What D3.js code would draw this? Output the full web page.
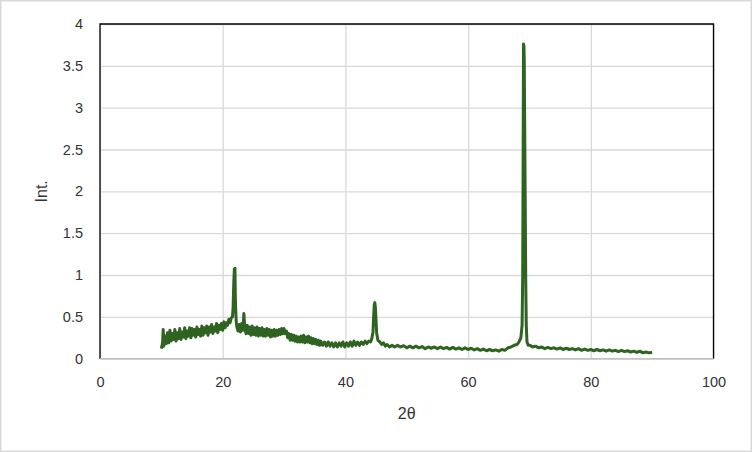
<!DOCTYPE html>
<html>
<head>
<meta charset="utf-8">
<script src="https://cdn.jsdelivr.net/npm/d3@7"></script>
<style>
  body { margin: 0; background: #fff; }
  svg text { font-family: "Liberation Sans", Arial, sans-serif; fill: #333; }
</style>
</head>
<body>
<div id="chart"></div>
<script>
// tick values
const xTicks = [0, 20, 40, 60, 80, 100];
const yTicks = [0, 0.5, 1, 1.5, 2, 2.5, 3, 3.5, 4];

// scan, [2θ, Int.]
const hump = [
  [10.0, 0.12], [10.2, 0.19], [10.3, 0.35], [10.4, 0.15], [10.6, 0.27], [10.8, 0.18],
  [11.0, 0.31], [11.2, 0.19], [11.4, 0.34], [11.6, 0.21], [11.8, 0.30], [12.0, 0.23],
  [12.2, 0.35], [12.4, 0.21], [12.6, 0.31], [12.8, 0.24], [13.0, 0.36], [13.2, 0.23],
  [13.4, 0.32], [13.6, 0.26], [13.8, 0.37], [14.0, 0.24], [14.2, 0.33], [14.4, 0.27],
  [14.6, 0.37], [14.8, 0.25], [15.0, 0.36], [15.2, 0.28], [15.4, 0.35], [15.6, 0.26],
  [15.8, 0.38], [16.0, 0.29], [16.2, 0.35], [16.4, 0.27], [16.6, 0.39], [16.8, 0.28],
  [17.0, 0.37], [17.2, 0.31], [17.4, 0.39], [17.6, 0.28], [17.8, 0.38], [18.0, 0.32],
  [18.2, 0.41], [18.4, 0.30], [18.6, 0.38], [18.8, 0.33], [19.0, 0.42], [19.2, 0.31],
  [19.4, 0.40], [19.6, 0.35], [19.8, 0.42], [20.0, 0.34], [20.2, 0.44], [20.4, 0.37],
  [20.6, 0.43], [20.8, 0.40], [21.0, 0.47], [21.2, 0.43], [21.4, 0.49], [21.6, 0.50]
];
const peak22 = [
  [21.7, 0.62], [21.8, 0.90], [21.9, 1.07], [22.0, 1.08], [22.05, 0.78], [22.1, 0.62],
  [22.2, 0.45], [22.3, 0.38], [22.5, 0.33], [22.7, 0.41], [22.9, 0.32], [23.1, 0.42],
  [23.3, 0.34], [23.45, 0.54], [23.6, 0.36], [23.8, 0.30]
];
const slope = [
  [24.0, 0.40], [24.2, 0.30], [24.4, 0.38], [24.6, 0.28], [24.8, 0.39], [25.0, 0.29],
  [25.2, 0.37], [25.4, 0.28], [25.6, 0.38], [25.8, 0.27], [26.0, 0.36], [26.2, 0.28],
  [26.4, 0.37], [26.6, 0.27], [26.8, 0.35], [27.0, 0.27], [27.2, 0.36], [27.4, 0.28],
  [27.6, 0.35], [27.8, 0.26], [28.0, 0.34], [28.2, 0.27], [28.4, 0.35], [28.6, 0.27],
  [28.8, 0.34], [29.0, 0.28], [29.2, 0.35], [29.4, 0.29], [29.6, 0.36], [29.8, 0.30],
  [30.0, 0.36], [30.2, 0.30], [30.4, 0.33], [30.6, 0.25], [30.8, 0.30], [31.0, 0.22],
  [31.2, 0.29], [31.4, 0.22], [31.6, 0.28], [31.8, 0.21], [32.0, 0.27], [32.2, 0.20],
  [32.4, 0.26], [32.6, 0.20], [32.8, 0.27], [33.0, 0.20], [33.2, 0.28], [33.4, 0.19],
  [33.6, 0.26], [33.8, 0.20], [34.0, 0.27], [34.2, 0.19], [34.4, 0.25], [34.6, 0.18],
  [34.8, 0.24], [35.0, 0.18], [35.2, 0.23], [35.4, 0.17], [35.6, 0.22], [35.8, 0.16],
  [36.0, 0.21], [36.3, 0.16], [36.6, 0.20], [36.9, 0.15], [37.2, 0.20], [37.5, 0.15],
  [37.8, 0.19], [38.1, 0.14], [38.4, 0.19], [38.7, 0.14], [39.0, 0.19], [39.3, 0.15],
  [39.6, 0.20], [39.9, 0.14], [40.2, 0.19], [40.5, 0.15], [40.8, 0.20], [41.1, 0.15],
  [41.4, 0.21], [41.7, 0.16], [42.0, 0.20], [42.3, 0.16], [42.6, 0.20], [42.9, 0.17],
  [43.2, 0.21], [43.5, 0.18], [43.8, 0.21], [44.1, 0.20]
];
const peak45 = [
  [44.3, 0.24], [44.5, 0.32], [44.6, 0.50], [44.7, 0.64], [44.8, 0.67], [44.9, 0.60],
  [45.0, 0.45], [45.1, 0.30], [45.3, 0.22], [45.6, 0.20], [45.9, 0.17], [46.2, 0.19],
  [46.5, 0.15], [46.8, 0.17], [47.2, 0.14], [47.6, 0.16]
];
const flat = [
  [48.0, 0.14], [48.5, 0.16], [49.0, 0.14], [49.5, 0.155], [50.0, 0.13], [50.5, 0.15],
  [51.0, 0.13], [51.5, 0.15], [52.0, 0.13], [52.5, 0.145], [53.0, 0.12], [53.5, 0.14],
  [54.0, 0.125], [54.5, 0.14], [55.0, 0.12], [55.5, 0.14], [56.0, 0.12], [56.5, 0.135],
  [57.0, 0.115], [57.5, 0.135], [58.0, 0.115], [58.5, 0.13], [59.0, 0.11], [59.5, 0.13],
  [60.0, 0.11], [60.5, 0.125], [61.0, 0.105], [61.5, 0.12], [62.0, 0.10], [62.5, 0.115],
  [63.0, 0.095], [63.5, 0.11], [64.0, 0.095], [64.5, 0.105], [65.0, 0.09], [65.5, 0.11],
  [66.0, 0.10], [66.5, 0.13], [67.0, 0.14], [67.5, 0.16], [68.0, 0.17], [68.3, 0.20]
];
const peak69 = [
  [68.6, 0.25], [68.8, 0.40], [68.9, 0.98], [68.97, 2.4], [69.03, 3.76], [69.1, 3.74],
  [69.15, 3.58], [69.3, 1.98], [69.4, 0.9], [69.48, 0.4], [69.6, 0.2], [69.8, 0.16]
];
const tail = [
  [70.1, 0.16], [70.5, 0.14], [71.0, 0.15], [71.5, 0.13], [72.0, 0.14], [72.5, 0.12],
  [73.0, 0.135], [73.5, 0.12], [74.0, 0.13], [74.5, 0.115], [75.0, 0.13], [75.5, 0.11],
  [76.0, 0.125], [76.5, 0.11], [77.0, 0.12], [77.5, 0.105], [78.0, 0.12], [78.5, 0.10],
  [79.0, 0.115], [79.5, 0.10], [80.0, 0.11], [80.5, 0.095], [81.0, 0.11], [81.5, 0.095],
  [82.0, 0.105], [82.5, 0.09], [83.0, 0.105], [83.5, 0.09], [84.0, 0.10], [84.5, 0.085],
  [85.0, 0.10], [85.5, 0.085], [86.0, 0.095], [86.5, 0.08], [87.0, 0.09], [87.5, 0.075],
  [88.0, 0.09], [88.5, 0.07], [89.0, 0.08], [89.5, 0.07], [90.0, 0.075]
];

const scan = [].concat(hump, peak22, slope, peak45, flat, peak69, tail);

const W = 752, H = 452;
const plotL = 100, plotR = 713.5, plotT = 24, plotB = 358.7;

const svg = d3.select("#chart").append("svg")
    .attr("width", W)
    .attr("height", H);

svg.append("rect")
    .attr("x", 0.75).attr("y", 0.75)
    .attr("width", W - 1.5).attr("height", H - 1.5)
    .attr("fill", "#fff")
    .attr("stroke", "#d9d9d9")
    .attr("stroke-width", 1.5);

const x = d3.scaleLinear().domain([0, 100]).range([plotL, plotR]);
const y = d3.scaleLinear().domain([0, 4]).range([plotB, plotT]);

// gridlines
svg.append("g")
    .attr("transform", `translate(0,${plotB})`)
    .call(d3.axisBottom(x).tickValues(xTicks).tickSize(-(plotB - plotT)).tickFormat(""))
    .call(g => g.select(".domain").remove())
    .call(g => g.selectAll("line").attr("stroke", "#d9d9d9").attr("stroke-width", 1.3));

svg.append("g")
    .attr("transform", `translate(${plotL},0)`)
    .call(d3.axisLeft(y).tickValues(yTicks).tickSize(-(plotR - plotL)).tickFormat(""))
    .call(g => g.select(".domain").remove())
    .call(g => g.selectAll("line").attr("stroke", "#d9d9d9").attr("stroke-width", 1.3));

// plot frame: black on three sides, grey axis at bottom
svg.append("path")
    .attr("d", `M${plotL},${plotB}V${plotT}H${plotR}V${plotB}`)
    .attr("fill", "none")
    .attr("stroke", "#000")
    .attr("stroke-width", 1.3);
svg.append("line")
    .attr("x1", plotL).attr("x2", plotR)
    .attr("y1", plotB).attr("y2", plotB)
    .attr("stroke", "#bfbfbf")
    .attr("stroke-width", 1.5);

// tick labels
svg.append("g")
    .attr("transform", `translate(0,${plotB})`)
    .call(d3.axisBottom(x).tickValues(xTicks).tickSize(0).tickPadding(18).tickFormat(d3.format("d")))
    .call(g => g.select(".domain").remove())
    .call(g => g.selectAll("text").attr("font-size", 14.5).attr("fill", "#333")
        .style("font-family", '"Liberation Sans", Arial, sans-serif'));

svg.append("g")
    .attr("transform", `translate(${plotL},0)`)
    .call(d3.axisLeft(y).tickValues(yTicks).tickSize(0).tickPadding(17).tickFormat(d => String(d)))
    .call(g => g.select(".domain").remove())
    .call(g => g.selectAll("text").attr("font-size", 14.5).attr("fill", "#333")
        .style("font-family", '"Liberation Sans", Arial, sans-serif'));

// axis titles
svg.append("text")
    .attr("transform", `translate(47,${(plotT + plotB) / 2}) rotate(-90)`)
    .attr("text-anchor", "middle")
    .attr("font-size", 16)
    .text("Int.");

svg.append("text")
    .attr("x", (plotL + plotR) / 2)
    .attr("y", 419)
    .attr("text-anchor", "middle")
    .attr("font-size", 16)
    .text("2θ");

// scan line
const line = d3.line()
    .x(d => x(d[0]))
    .y(d => y(d[1]));

svg.append("path")
    .datum(scan)
    .attr("fill", "none")
    .attr("stroke", "#2f6321")
    .attr("stroke-width", 3)
    .attr("stroke-linejoin", "round")
    .attr("d", line);
</script>
</body>
</html>
